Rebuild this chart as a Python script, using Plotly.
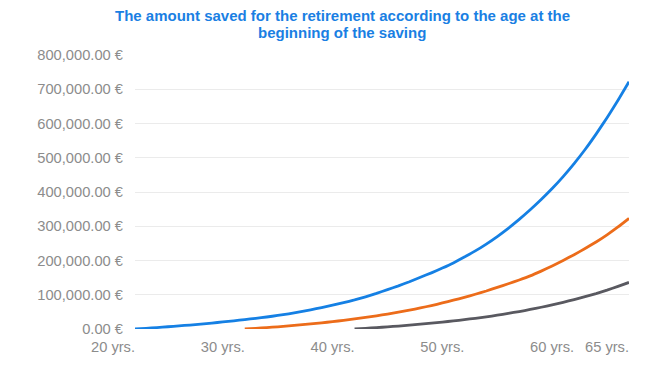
import plotly.graph_objects as go

# Ages (x) and amounts (€)
ages_blue = list(range(20, 66))
saved_blue = [0, 2000, 4200, 6600, 9000, 11600, 14400, 17400, 20600, 24000,
              27600, 31000, 35000, 39500, 44500, 50000, 56000, 62500, 69500, 77000,
              85000, 94000, 104000, 115000, 126000, 138000, 151000, 164000, 178000, 193000,
              210000, 228000, 248000, 270000, 294000, 320000, 348000, 378000, 410000, 445000,
              483000, 524000, 569000, 617000, 668000, 722000]

ages_orange = list(range(30, 66))
saved_orange = [0, 2000, 4100, 6400, 9000, 11800, 14800, 18000, 21500, 25300,
                29400, 33800, 38500, 43500, 49000, 55000, 61500, 68500, 76000, 84000,
                92500, 101500, 111000, 121500, 132000, 143000, 155000, 169000, 184000, 200000,
                217000, 235000, 254000, 275000, 298000, 323000]

ages_gray = list(range(40, 66))
saved_gray = [0, 1900, 4000, 6200, 8600, 11200, 14000, 17000, 20200, 23600,
              27300, 31300, 35600, 40300, 45500, 51000, 57000, 63500, 70500, 78000,
              86000, 94500, 103500, 113500, 124500, 136000]

x_tick_vals = [20, 30, 40, 50, 60, 65]
x_tick_text = ["20 yrs.", "30 yrs.", "40 yrs.", "50 yrs.", "60 yrs.", "65 yrs."]
y_tick_vals = [0, 100000, 200000, 300000, 400000, 500000, 600000, 700000, 800000]
y_tick_text = ["0.00 €", "100,000.00 €", "200,000.00 €", "300,000.00 €", "400,000.00 €",
               "500,000.00 €", "600,000.00 €", "700,000.00 €", "800,000.00 €"]

title_lines = ["The amount saved for the retirement according to the age at the",
               "beginning of the saving"]

FONT = "Liberation Sans, Arial, sans-serif"
TITLE_COLOR = "#1a7fe3"

fig = go.Figure()
for xs, ys, col in [(ages_blue, saved_blue, "#1580e4"),
                    (ages_orange, saved_orange, "#ec6c1a"),
                    (ages_gray, saved_gray, "#595960")]:
    fig.add_trace(go.Scatter(x=xs, y=ys, mode="lines",
                             line=dict(color=col, width=2.8, shape="spline", smoothing=0.5),
                             showlegend=False, hoverinfo="skip"))

# page body has an 8px margin, so the figure is sized to the visible area
W, H = 664, 359
M_L, M_R, M_T, M_B = 127, 43, 47, 32
plot_h = H - M_T - M_B

def paper_y(px_from_top):
    return (H - M_B - px_from_top) / plot_h

for line, ypx in zip(title_lines, [7, 24]):
    fig.add_annotation(text=f"<b>{line}</b>", xref="paper", yref="paper",
                       x=(342 - 8 - M_L) / (W - M_L - M_R), y=paper_y(ypx),
                       xanchor="center", yanchor="middle", showarrow=False,
                       font=dict(family=FONT, size=15, color=TITLE_COLOR))

fig.update_layout(
    width=W, height=H,
    margin=dict(l=M_L, r=M_R, t=M_T, b=M_B),
    paper_bgcolor="white", plot_bgcolor="white",
    font=dict(family=FONT, color="#8c8c8c", size=14.7),
)
fig.update_xaxes(range=[20, 65], tickvals=x_tick_vals, ticktext=x_tick_text,
                 showgrid=False, zeroline=False, showline=False, ticks="",
                 ticklabelshift=-22, ticklabelstandoff=7,
                 tickfont=dict(size=14.7, color="#8c8c8c"))
fig.update_yaxes(range=[0, 800000], tickvals=y_tick_vals, ticktext=y_tick_text,
                 showgrid=True, gridcolor="#ebebeb", gridwidth=1,
                 zeroline=False, showline=False, ticks="", ticklabelstandoff=11,
                 tickfont=dict(size=14.7, color="#8c8c8c"))

fig.write_html("out.html")
